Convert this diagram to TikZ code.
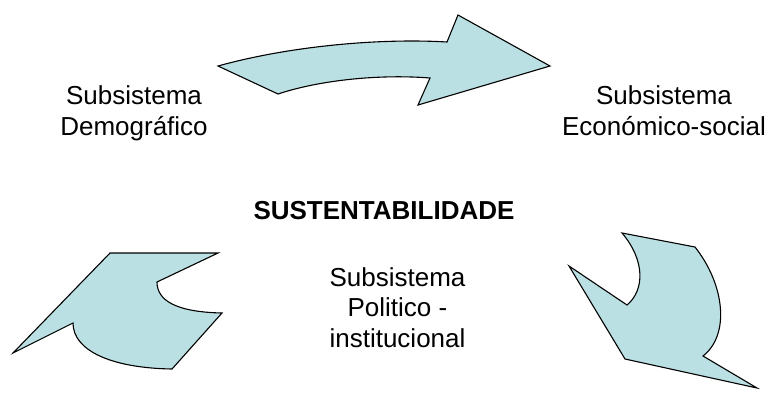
\documentclass[tikz,border=0pt]{standalone}
\usepackage{fontspec}
\setmainfont{Liberation Sans}
\usepackage{tikz}
\usetikzlibrary{positioning}
\definecolor{setaazul}{HTML}{BBE0E3}
\tikzset{
x=1pt, y=-1pt, % pixel-like units, y going down
bigarrow/.style={draw=black, line width=1.1pt, fill=setaazul, line join=miter}, % the three curved arrows
subsys/.style={align=center, inner sep=0pt, anchor=base, font=\fontsize{26}{30.5}\selectfont}, % subsystem names, anchored on the last line
titulo/.style={inner sep=0pt, anchor=base, font=\fontsize{26}{30.5}\selectfont\bfseries}, % central title
}

\begin{document}
\begin{tikzpicture}
        \useasboundingbox (0,0) rectangle (768,392);

        % top arrow
        \draw[bigarrow] (218,66) .. controls (290,46) and (380,38) .. (447,42)
        -- (458,15) -- (550,66) -- (418,105) -- (430,78)
        .. controls (380,74) and (320,80) .. (278,94) -- cycle;

        % bottom left arrow
        \draw[bigarrow] (110,253) -- (218,253) -- (157,282)
        .. controls (157,300) and (175,312) .. (222,313)
        -- (172,369) .. controls (110,368) and (73,350) .. (73,323)
        -- (13,353) -- cycle;

        % bottom right arrow
        \draw[bigarrow] (622,233) -- (695,247)
        .. controls (725,285) and (730,335) .. (703,356)
        -- (757,388) -- (625,359) -- (569,266) -- (627,305)
        .. controls (645,290) and (645,260) .. cycle;

        \node[subsys] (demog) at (134,135) {Subsistema\\Demográfico};
        \node[subsys] (econ) at (664,135) {Subsistema\\Económico-social};
        \node[titulo] (sust) at (384,219) {SUSTENTABILIDADE};
        \node[subsys] (polit) at (397.5,347) {Subsistema\\Politico -\\institucional};
      \end{tikzpicture}
\end{document}
